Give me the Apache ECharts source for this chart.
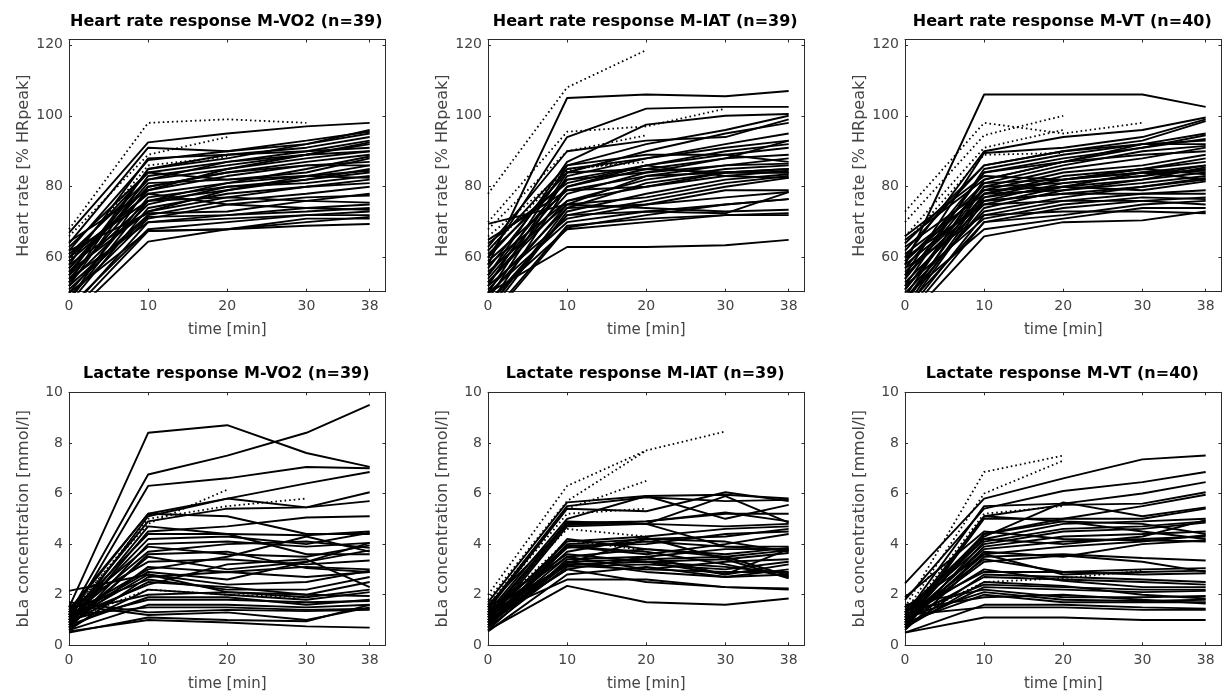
<!DOCTYPE html>
<html>
<head>
<meta charset="utf-8">
<script src="https://cdn.jsdelivr.net/npm/echarts@6/dist/echarts.min.js"></script>
<style>html,body{margin:0;padding:0;background:#fff}#c{width:1227px;height:698px}</style>
</head>
<body>
<div id="c"></div>
<script>
// ---- data ----
const times = [0, 10, 20, 30, 38];
const xTicks = [0, 10, 20, 30, 38];
const hrTicks = [60, 80, 100, 120];
const laTicks = [0, 2, 4, 6, 8, 10];

const titles = [
  'Heart rate response M-VO2 (n=39)',
  'Heart rate response M-IAT (n=39)',
  'Heart rate response M-VT (n=40)',
  'Lactate response M-VO2 (n=39)',
  'Lactate response M-IAT (n=39)',
  'Lactate response M-VT (n=40)'
];
const xLabel = 'time [min]';
const hrLabel = 'Heart rate [% HRpeak]';
const laLabel = 'bLa concentration [mmol/l]';

// Heart rate M-VO2
const hrVO2 = [
  [67,92.5,95,97,98],[64,91,90,93,95.5],[62,87.5,90,92,95],[58,88,89,91,94],[55,85,88,92,96],
  [60,84,87,90,93],[52,83,86,89,92],[57,82,85,88,90],[48,80,84,87,89],[63,84,82,84,88],
  [54,79,83,86,87],[59,78,81,83,86],[50,77,80,82,85],[61,76,79,82,84],[53,75,80,81,83],
  [56,81,82,83,82.5],[47,74,78,80,82],[58,73,77,80,81],[52,72,76,78,80],[62,72.5,73,76,78],
  [49,71,75,77,77.5],[55,76,77,76,75.5],[45,70,72,74,75],[51,71.5,72,73,74],[60,78,75,74,73.5],
  [46,68,70,72,73],[54,70,71,72,72],[44,67.5,68,70,71.5],[50,67.5,68,69,69.5],[43,64.5,68,71,71],
  [57,80,84,86,86],[53,85,89,90,91],[61,82,87,89,92.5],[48,76,81,85,88.5],[56,73,79,83,84.5],
  [64.5,79,85,89,90]
];
const hrVO2Dotted = [[68,98,99,98],[66,89,94],[59,86,88.5]];

// Heart rate M-IAT
const hrIAT = [
  [58,105,106,105.5,107],[60,94,102,102.5,102.5],[55,87,97.5,100,100.5],[52,86,92,96,100],[63,90,93,94,99],
  [50,84,90,95,98],[57,85,88,92,95],[48,83,88,91,93],[61,82,86,90,92],[54,80,86,89,91],
  [46,80,85,88,89],[65,79,83,86,88],[53,76,82,85,86],[49,75,83,84,85],[59,79,80,83,84.5],
  [51,74,81,84,84],[44,73,78,82,83.5],[56,75,77,81,83],[47,72,76,80,82.5],[52,71,75,79,79],
  [45,74,75,77,78.5],[50,70,73,75,76.5],[69.5,75,74,73,73.5],[43,69,71,72,72.5],[48,68,70,72,72],
  [50,63,63,63.5,65],[55,82,84,86,86.5],[58,76,80,84,85],[62,86,89,89,87],[46,72,73,72.5,78.5],
  [53,78,84,88,93],[60,84,85,84,84],[42,68.5,72,75,76.5],[64,81,86,83,82.5]
];
const hrIATDotted = [[78,108,118.5],[70,95.5,97,102],[68,90,94.5],[66,84.5,88],[62,85,87]];

// Heart rate M-VT
const hrVT = [
  [58,106,106,106,102.5],[60,90,94,96,99.5],[55,89.5,91,94,99],[62,86,90,93,98.5],[52,85,89,92,95],
  [57,84,88,91,94.5],[49,82,87,92,93],[64,86,90,92,92],[54,81,86,90,91.5],[47,80,85,88,91],
  [59,79,84,86,89],[51,78,83,85,88],[66,83,82,85,87],[56,77,82,84,86],[45,76,81,83,85],
  [53,75,80,84,84.5],[61,78,79,82,84],[48,74,79,81,83],[58,76,78,80,82.5],[50,73,77,80,82],
  [63,79,80,79,81.5],[44,72,76,78,79],[55,76,78,78,78],[52,71,75,77,76.5],[46,70,72,75,76],
  [60,75,76,76,75],[49,68,71,74,74],[42,66,70,70.5,73],[57,72,73,73,72.5],[51,80,81,83,86],
  [46,77,80,82,85.5],[65,82,87,91,93.5],[54,84,87,89,90],[43,70,74,76,77],[59,81,82,85,83.5],
  [48,78,82,84,82]
];
const hrVTDotted = [[73,98,95,98],[70,94.5,100],[66,91,96],[64,89,89.5]];

// Lactate M-VO2
const laVO2 = [
  [1.5,8.4,8.7,7.6,7.05],[1.2,6.75,7.5,8.4,9.5],[1.0,6.3,6.6,7.05,7.0],[1.3,5.2,5.8,6.4,6.85],[0.9,5.1,5.8,5.45,6.05],
  [1.1,4.9,5.4,5.45,5.7],[1.4,5.2,5.1,4.4,4.4],[0.8,4.5,4.7,5.05,5.1],[1.2,4.4,4.4,4.35,4.5],[1.0,4.2,4.3,4.0,4.45],
  [0.7,4.0,4.1,3.9,4.05],[1.3,3.9,3.6,3.5,3.95],[1.1,3.7,4.0,4.1,3.85],[0.9,3.5,3.0,3.3,3.75],[1.5,3.3,3.4,3.2,3.35],
  [0.8,3.1,2.9,3.1,3.0],[1.2,3.0,3.5,4.3,3.7],[1.0,2.8,2.4,2.5,2.95],[0.6,2.7,2.9,2.7,2.9],[1.4,2.6,2.2,2.2,2.7],
  [0.9,2.5,2.3,2.0,2.5],[1.1,2.4,3.2,3.4,2.3],[2.15,2.8,2.1,1.9,2.2],[0.7,2.2,2.0,1.8,2.1],[1.3,2.0,2.1,2.0,1.95],
  [0.8,1.9,1.9,1.6,1.8],[1.0,1.8,1.8,1.7,1.75],[0.6,1.6,1.6,1.5,1.6],[1.2,1.5,1.5,1.4,1.45],[1.7,1.3,1.4,1.35,1.4],
  [0.5,1.1,1.0,0.95,1.6],[0.55,1.0,0.9,0.75,0.7],[1.6,1.2,1.3,1.0,1.5],[0.9,4.7,4.4,3.6,3.6],[1.1,2.9,2.6,3.3,4.05],
  [0.7,3.6,3.7,3.05,2.9]
];
const laVO2Dotted = [[1.3,4.8,6.15],[1.2,5.0,5.5,5.8],[1.0,2.2,2.0,1.9]];

// Lactate M-IAT
const laIAT = [
  [1.7,5.65,5.9,5.95,5.8],[1.5,5.5,5.85,5.7,5.75],[1.4,5.4,5.3,6.05,5.7],[1.3,5.0,5.9,5.0,5.55],[1.2,4.85,4.9,5.2,5.2],
  [1.0,4.8,4.8,5.9,4.85],[0.9,4.7,4.8,4.7,4.8],[1.1,4.1,4.3,4.6,4.7],[0.8,4.0,4.2,4.3,4.6],[1.2,3.95,4.0,4.4,4.5],
  [0.7,3.9,3.6,4.0,4.4],[1.0,3.85,4.1,3.9,3.9],[1.3,3.5,3.8,3.6,3.85],[0.6,3.4,3.5,3.8,3.8],[0.9,3.3,3.4,3.5,3.75],
  [1.1,3.25,4.2,4.1,3.7],[0.8,3.2,3.3,3.4,3.65],[1.4,3.15,3.0,3.3,3.4],[0.7,3.1,3.2,3.0,3.3],[1.0,3.0,3.5,2.8,3.2],
  [0.55,2.8,3.1,2.7,3.0],[1.2,2.6,2.6,2.3,2.25],[0.6,2.35,1.7,1.6,1.85],[0.9,3.5,3.0,2.9,2.9],[1.5,3.6,3.3,3.1,2.85],
  [0.8,3.3,2.9,2.7,2.8],[1.0,3.0,2.5,2.3,2.2],[1.1,4.9,4.8,3.9,3.75],[0.7,4.2,3.8,3.5,2.75],[1.3,3.9,3.7,3.2,2.7],
  [0.9,3.7,4.25,3.4,2.65],[1.6,4.75,4.9,5.25,4.9],[1.2,3.2,3.3,2.8,3.8]
];
const laIATDotted = [[2.0,6.3,7.7,8.45],[1.8,5.7,7.7],[1.6,5.4,6.5],[1.5,5.2,5.4],[1.3,4.6,4.3],[1.2,4.15,3.75]];

// Lactate M-VT
const laVT = [
  [2.45,5.8,6.6,7.35,7.5],[1.8,5.4,6.1,6.45,6.85],[1.2,5.5,5.6,6.0,6.45],[1.0,5.1,5.55,5.6,6.05],[0.9,4.4,5.0,5.5,5.95],
  [1.4,4.3,5.65,5.1,5.45],[0.8,5.0,5.0,5.0,5.4],[1.1,4.2,4.8,4.9,5.0],[0.7,4.1,4.6,4.7,4.9],[1.3,4.0,4.5,4.6,4.85],
  [0.9,3.9,4.3,4.4,4.5],[1.0,3.8,4.1,4.2,4.3],[1.2,4.4,4.9,4.5,4.2],[0.8,3.7,3.5,4.0,4.15],[1.5,3.6,3.9,4.1,4.35],
  [0.6,3.5,3.6,3.45,3.35],[1.1,3.4,2.9,3.0,3.05],[0.9,3.6,2.8,2.9,2.95],[1.3,2.9,2.9,2.8,2.85],[0.7,2.8,2.7,2.6,2.5],
  [1.0,2.7,2.6,2.5,2.4],[1.2,2.4,2.3,2.2,2.2],[0.8,2.3,2.2,2.1,2.15],[1.6,2.2,1.9,1.9,1.95],[1.1,2.1,1.8,1.75,1.8],
  [0.9,2.0,1.7,1.7,1.7],[1.4,1.9,2.0,1.8,1.65],[0.5,1.6,1.6,1.5,1.45],[1.2,1.5,1.5,1.4,1.4],[0.5,1.1,1.1,1.0,1.0],
  [1.9,4.5,4.2,4.15,4.1],[1.0,3.3,3.55,3.3,2.9],[0.8,5.1,4.9,4.8,4.4],[1.1,3.0,2.55,2.3,2.3],[0.7,2.5,2.35,2.0,1.85],
  [1.3,4.2,4.0,4.3,4.95]
];
const laVTDotted = [[1.5,6.85,7.5],[1.3,6.0,7.3],[1.1,5.2,5.5],[1.0,2.5,2.65,2.95]];

// ---- chart ----
const panels = [
  {solid: hrVO2, dotted: hrVO2Dotted, yName: hrLabel, yTicks: hrTicks, yMin: 50.4, yMax: 121.5},
  {solid: hrIAT, dotted: hrIATDotted, yName: hrLabel, yTicks: hrTicks, yMin: 50.4, yMax: 121.5},
  {solid: hrVT,  dotted: hrVTDotted,  yName: hrLabel, yTicks: hrTicks, yMin: 50.4, yMax: 121.5},
  {solid: laVO2, dotted: laVO2Dotted, yName: laLabel, yTicks: laTicks, yMin: 0, yMax: 10},
  {solid: laIAT, dotted: laIATDotted, yName: laLabel, yTicks: laTicks, yMin: 0, yMax: 10},
  {solid: laVT,  dotted: laVTDotted,  yName: laLabel, yTicks: laTicks, yMin: 0, yMax: 10}
];
const lefts = [69, 488, 905];
const tops = [39.5, 392.3];
const W = 316.5, H = [252.2, 253];
const FONT = 'DejaVu Sans';
const TXT = '#444';
const AX = '#2b2b2b';

const grid = [], xAxis = [], yAxis = [], series = [], title = [];
panels.forEach((p, i) => {
  const r = Math.floor(i / 3), c = i % 3;
  grid.push({left: lefts[c], top: tops[r], width: W, height: H[r], containLabel: false});
  title.push({
    text: titles[i], left: lefts[c] + W / 2 - 1, top: r === 0 ? 14 : 366, textAlign: 'center', padding: 0,
    textStyle: {fontFamily: FONT, fontSize: 16, fontWeight: 'bold', color: '#000'}
  });
  const tick = {show: true, inside: true, length: 3, lineStyle: {color: AX, width: 1}};
  // bottom x
  xAxis.push({
    type: 'value', gridIndex: i, min: 0, max: 40, position: 'bottom',
    name: xLabel, nameLocation: 'middle', nameGap: 31,
    nameTextStyle: {fontFamily: FONT, fontSize: 15, color: TXT},
    axisLine: {show: true, onZero: false, lineStyle: {color: AX, width: 1}},
    axisTick: Object.assign({customValues: xTicks}, tick),
    axisLabel: {customValues: xTicks, margin: 8, fontFamily: FONT, fontSize: 14, color: TXT},
    splitLine: {show: false}
  });
  // top x (mirror)
  xAxis.push({
    type: 'value', gridIndex: i, min: 0, max: 40, position: 'top',
    axisLine: {show: true, onZero: false, lineStyle: {color: AX, width: 1}},
    axisTick: Object.assign({customValues: xTicks}, tick),
    axisLabel: {show: false}, splitLine: {show: false}
  });
  // left y
  yAxis.push({
    type: 'value', gridIndex: i, min: p.yMin, max: p.yMax, position: 'left',
    name: p.yName, nameLocation: 'middle', nameGap: 37, nameRotate: 90,
    nameTextStyle: {fontFamily: FONT, fontSize: 16, color: TXT},
    axisLine: {show: true, onZero: false, lineStyle: {color: AX, width: 1}},
    axisTick: Object.assign({customValues: p.yTicks}, tick),
    axisLabel: {customValues: p.yTicks, margin: 6, fontFamily: FONT, fontSize: 14, color: TXT},
    splitLine: {show: false}
  });
  // right y (mirror)
  yAxis.push({
    type: 'value', gridIndex: i, min: p.yMin, max: p.yMax, position: 'right',
    axisLine: {show: true, onZero: false, lineStyle: {color: AX, width: 1}},
    axisTick: Object.assign({customValues: p.yTicks}, tick),
    axisLabel: {show: false}, splitLine: {show: false}
  });
  const addLine = (row, dotted) => {
    series.push({
      type: 'line', xAxisIndex: 2 * i, yAxisIndex: 2 * i,
      data: row.map((v, k) => [times[k], v]),
      symbol: 'none', silent: true, clip: true,
      lineStyle: {color: '#000', width: dotted ? 1.8 : 1.9, type: dotted ? [1.6, 3] : 'solid'}
    });
  };
  p.solid.forEach(row => addLine(row, false));
  p.dotted.forEach(row => addLine(row, true));
});

const chart = echarts.init(document.getElementById('c'), null, {renderer: 'canvas'});
chart.setOption({animation: false, backgroundColor: '#fff', title, grid, xAxis, yAxis, series});
</script>
</body>
</html>
